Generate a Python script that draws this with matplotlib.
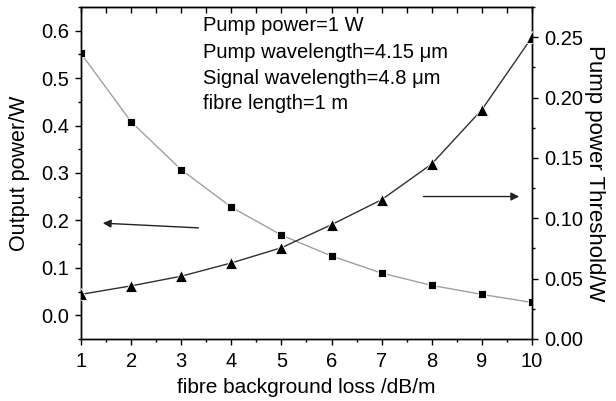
import matplotlib
matplotlib.use("Agg")
import matplotlib.pyplot as plt
from matplotlib.ticker import MultipleLocator

plt.rcParams['font.family'] = ['Liberation Sans', 'DejaVu Sans']

loss = [1, 2, 3, 4, 5, 6, 7, 8, 9, 10]
output_power = [0.552, 0.408, 0.307, 0.228, 0.169, 0.125, 0.089, 0.063, 0.044, 0.027]
threshold = [0.037, 0.044, 0.052, 0.063, 0.0756, 0.0947, 0.1154, 0.145, 0.190, 0.250]
info_lines = ["Pump power=1 W", "Pump wavelength=4.15 \u03bcm",
              "Signal wavelength=4.8 \u03bcm", "fibre length=1 m"]

fig = plt.figure(figsize=(6.16, 4.01), dpi=100)
ax = fig.add_axes([81/616, 1 - 339/401, 451/616, 332/401])
ax2 = ax.twinx()

ax.plot(loss, output_power, color='#a0a0a0', lw=1.0, marker='s', ms=6,
        mfc='black', mec='white', mew=0.6, zorder=3)
ax2.plot(loss, threshold, color='#303030', lw=1.0, marker='^', ms=8,
         mfc='black', mec='white', mew=0.6, zorder=3)

ax.set_xlim(1, 10)
ax.set_ylim(-0.05, 0.65)
ax2.set_ylim(0, 0.275)

ax.xaxis.set_major_locator(MultipleLocator(1))
ax.xaxis.set_minor_locator(MultipleLocator(0.5))
ax.yaxis.set_major_locator(MultipleLocator(0.1))
ax.yaxis.set_minor_locator(MultipleLocator(0.05))
ax2.yaxis.set_major_locator(MultipleLocator(0.05))
ax2.yaxis.set_minor_locator(MultipleLocator(0.025))
ax.yaxis.set_major_formatter(plt.FuncFormatter(lambda v, p: f"{v:.1f}"))
ax2.yaxis.set_major_formatter(plt.FuncFormatter(lambda v, p: f"{v:.2f}"))

ax.tick_params(axis='both', which='major', direction='out', length=4.5, width=1,
               labelsize=14.5, colors='black', pad=4)
ax.tick_params(axis='x', which='major', pad=5)
ax.tick_params(axis='both', which='minor', direction='out', length=2.5, width=1)
ax2.tick_params(axis='y', which='major', direction='out', length=4.5, width=1,
                labelsize=14.5, pad=4)
ax2.tick_params(axis='y', which='minor', direction='out', length=2.5, width=1)

top = ax.secondary_xaxis('top')
top.xaxis.set_major_locator(MultipleLocator(1))
top.xaxis.set_minor_locator(MultipleLocator(0.5))
top.tick_params(axis='x', which='both', direction='in', length=4, width=1,
                labeltop=False)

for a in (ax, ax2):
    for s in a.spines.values():
        s.set_linewidth(1)

ax.set_xlabel("fibre background loss /dB/m", fontsize=15, labelpad=5)
ax.set_ylabel("Output power/W", fontsize=15.5, labelpad=8)
ax2.set_ylabel("Pump power Threshold/W", fontsize=16, rotation=270, labelpad=16)

ys = [0.943, 0.864, 0.785, 0.709]
for t, y in zip(info_lines, ys):
    ax.text(0.271, y, t, transform=ax.transAxes, fontsize=14.5, va='center', ha='left')

ax.annotate("", xy=(1.38, 0.1945), xytext=(3.4, 0.184),
            arrowprops=dict(arrowstyle='-|>', color='#222222', lw=1.0,
                            mutation_scale=12))
ax2.annotate("", xy=(9.8, 0.118), xytext=(7.78, 0.118),
             arrowprops=dict(arrowstyle='-|>', color='#222222', lw=1.0,
                             mutation_scale=12))

fig.savefig("out.png", dpi=100)
